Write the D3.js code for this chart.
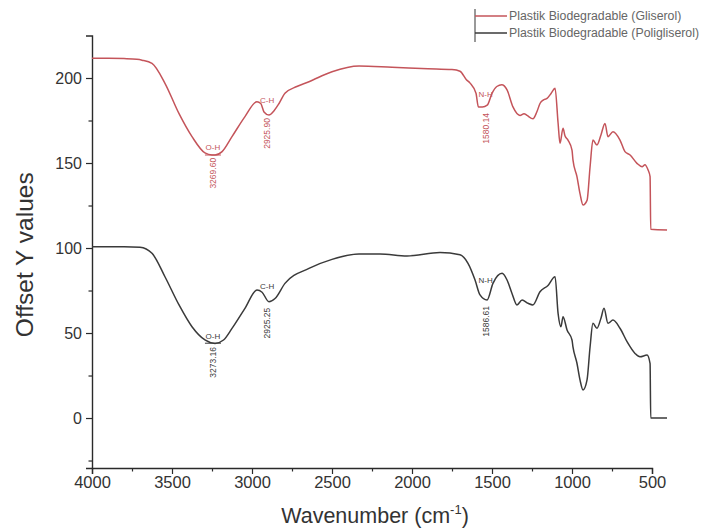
<!DOCTYPE html>
<html>
<head>
<meta charset="utf-8">
<script src="https://cdn.jsdelivr.net/npm/d3@7/dist/d3.min.js"></script>
<style>
  html, body { margin: 0; padding: 0; background: #fff; }
  svg { display: block; }
  text { font-family: "Liberation Sans", Arial, sans-serif; }
</style>
</head>
<body>
<svg id="chart" width="702" height="529"></svg>
<script>
// ---------- data ----------
const seriesNames = ["Plastik Biodegradable (Gliserol)", "Plastik Biodegradable (Poligliserol)"];
const seriesColors = ["#c4545a", "#3a3a3a"];

const gliserol = [
  [4000,211.6],[3900,211.6],[3800,211.4],[3720,211],[3687,210.5],[3625,208.6],[3544,196.9],
  [3456,179],[3375,165.5],[3294,155.9],[3250,154.7],[3231,154.7],[3187,156.7],[3125,165.5],
  [3044,177.3],[2969,186],[2945,185],[2925,180],[2894,178.2],[2860,181],[2831,185],[2794,191],
  [2720,195],[2644,197.8],[2500,203.7],[2331,207],[2125,206.3],[1900,205.5],[1750,205],
  [1700,204],[1660,199],[1637,197],[1600,191],[1585,183],[1560,183],[1530,184],[1500,191],
  [1470,195],[1439,196],[1406,193],[1369,183],[1325,178],[1300,179],[1281,178],[1244,176],
  [1220,180],[1200,185],[1180,187],[1156,188],[1130,191],[1106,194],[1087,173.5],[1075,161.6],
  [1056,170.4],[1044,166],[1025,163.5],[1000,157.6],[994,151.8],[969,142],[950,132],[931,125.3],
  [906,128],[887,147.8],[869,163.5],[844,160.6],[819,166.5],[794,173.3],[775,165.5],[744,168.4],
  [700,163.5],[669,156.7],[637,154.7],[594,149.8],[562,147.8],[544,149],[525,146],[512,142],
  [508,111],[406,110.6]
];

const poligliserol = [
  [4000,100.8],[3800,100.8],[3700,100.5],[3625,96.9],[3544,83.1],[3456,66.5],[3375,53.7],
  [3294,45.9],[3231,43.9],[3178,45.9],[3125,52.7],[3044,64.5],[2969,75.3],[2937,74],
  [2894,68.4],[2856,70.3],[2794,79.2],[2644,88],[2500,93.3],[2331,96.5],[2200,96.5],
  [2031,95.3],[1825,97.3],[1700,96],[1650,91],[1606,81.2],[1575,72.4],[1531,69.4],[1494,79.2],
  [1437,85.1],[1406,81.2],[1375,73.3],[1344,66.5],[1312,69.4],[1275,67.5],[1244,66.5],
  [1200,74.3],[1150,78],[1106,83.1],[1087,61.6],[1069,53.7],[1056,59.6],[1031,51.8],[1000,45.9],
  [994,41.9],[969,32.2],[950,22.4],[931,16.5],[906,22.4],[887,41.9],[869,55.7],[844,52.8],
  [819,58.7],[800,64.5],[775,55.7],[744,57.6],[700,52.8],[656,44.9],[606,38],[575,36],
  [531,37],[512,32],[508,0],[406,0]
];

// peak annotations: [series index, wavenumber, label, number text, label baseline Y, bracket Y, number start Y]
const peakLabels = [
  [0, 3244, "O-H", "3269.60", 157.6, 154.7, 153.6],
  [0, 2905, "C-H", "2925.90", 185.3, null, 177],
  [0, 1540, "N-H", "1580.14", 188.8, null, 180],
  [1, 3244, "O-H", "3273.16", 46.5, 44, 42.4],
  [1, 2905, "C-H", "2925.25", 75.7, null, 65.5],
  [1, 1540, "N-H", "1586.61", 79.4, null, 66.5]
];

const xMajorTicks = [4000, 3500, 3000, 2500, 2000, 1500, 1000, 500];
const xMinorTicks = [3750, 3250, 2750, 2250, 1750, 1250, 750];
const yMajorTicks = [0, 50, 100, 150, 200];
const yMinorTicks = [-25, 25, 75, 125, 175];

// ---------- drawing ----------
const svg = d3.select("#chart");
const x = d3.scaleLinear().domain([4000, 500]).range([92, 652]);
const y = d3.scaleLinear().domain([-29.4, 225]).range([468, 35.5]);

const axisColor = "#2a2a2a";
const textColor = "#333";
const fontFam = "'Liberation Sans', Arial, sans-serif";

// x axis
const xAxis = svg.append("g").attr("transform", `translate(0,${y(-29.4)})`);
xAxis.call(d3.axisBottom(x).tickValues(xMajorTicks).tickSize(6).tickPadding(2).tickFormat(d3.format("d")));
xAxis.append("g").call(d3.axisBottom(x).tickValues(xMinorTicks).tickSize(3.5).tickFormat(""))
  .select(".domain").remove();
xAxis.selectAll(".domain").attr("stroke", axisColor).attr("stroke-width", 1.4);
xAxis.selectAll(".tick line").attr("stroke", axisColor).attr("stroke-width", 1.2);
xAxis.selectAll(".tick text").attr("fill", textColor).style("font-size", "16.5px")
  .style("font-family", fontFam);

// y axis
const yAxis = svg.append("g").attr("transform", `translate(${x(4000)},0)`);
yAxis.call(d3.axisLeft(y).tickValues(yMajorTicks).tickSize(6).tickPadding(4));
yAxis.append("g").call(d3.axisLeft(y).tickValues(yMinorTicks).tickSize(3.5).tickFormat(""))
  .select(".domain").remove();
yAxis.selectAll(".domain").attr("stroke", axisColor).attr("stroke-width", 1.4);
yAxis.selectAll(".tick line").attr("stroke", axisColor).attr("stroke-width", 1.2);
yAxis.selectAll(".tick text").attr("fill", textColor).style("font-size", "16px")
  .style("font-family", fontFam);

// axis titles
svg.append("text")
  .attr("transform", `translate(33,${(y(225) + y(-29.4)) / 2 + 3}) rotate(-90)`)
  .attr("text-anchor", "middle").attr("fill", textColor)
  .style("font-size", "24.5px")
  .text("Offset Y values");

const xt = svg.append("text")
  .attr("x", 375).attr("y", 523)
  .attr("text-anchor", "middle").attr("fill", textColor)
  .style("font-size", "21.5px");
xt.append("tspan").text("Wavenumber (cm");
xt.append("tspan").attr("dy", -9).style("font-size", "13px").text("-1");
xt.append("tspan").attr("dy", 9).text(")");

// lines
const line = d3.line().x(d => x(d[0])).y(d => y(d[1])).curve(d3.curveMonotoneX);
[gliserol, poligliserol].forEach((data, i) => {
  svg.append("path").datum(data)
    .attr("fill", "none")
    .attr("stroke", seriesColors[i])
    .attr("stroke-width", 1.5)
    .attr("stroke-linejoin", "round")
    .attr("d", line);
});

// peak labels
peakLabels.forEach(p => {
  const [si, wn, lab, num, labY, brY, numY] = p;
  const col = seriesColors[si];
  const px = x(wn);
  svg.append("text")
    .attr("x", px).attr("y", y(labY))
    .attr("text-anchor", "middle").attr("fill", col)
    .style("font-size", "8px").text(lab);
  if (brY !== null) {
    svg.append("line")
      .attr("x1", px - 8).attr("x2", px + 8)
      .attr("y1", y(brY)).attr("y2", y(brY))
      .attr("stroke", col).attr("stroke-width", 1);
  }
  svg.append("text")
    .attr("transform", `translate(${px + 3},${y(numY) + 1}) rotate(-90)`)
    .attr("text-anchor", "end").attr("fill", col)
    .style("font-size", "8.5px").text(num);
});

// legend
const lg = svg.append("g");
lg.append("line").attr("x1", 475).attr("x2", 475).attr("y1", 9).attr("y2", 42)
  .attr("stroke", "#555").attr("stroke-width", 1.2);
seriesNames.forEach((name, i) => {
  const ly = 16 + i * 17;
  lg.append("line").attr("x1", 475).attr("x2", 507).attr("y1", ly).attr("y2", ly)
    .attr("stroke", seriesColors[i]).attr("stroke-width", 1.5);
  lg.append("text").attr("x", 509).attr("y", ly + 4)
    .attr("fill", "#666").style("font-size", "12.3px").text(name);
});
</script>
</body>
</html>
